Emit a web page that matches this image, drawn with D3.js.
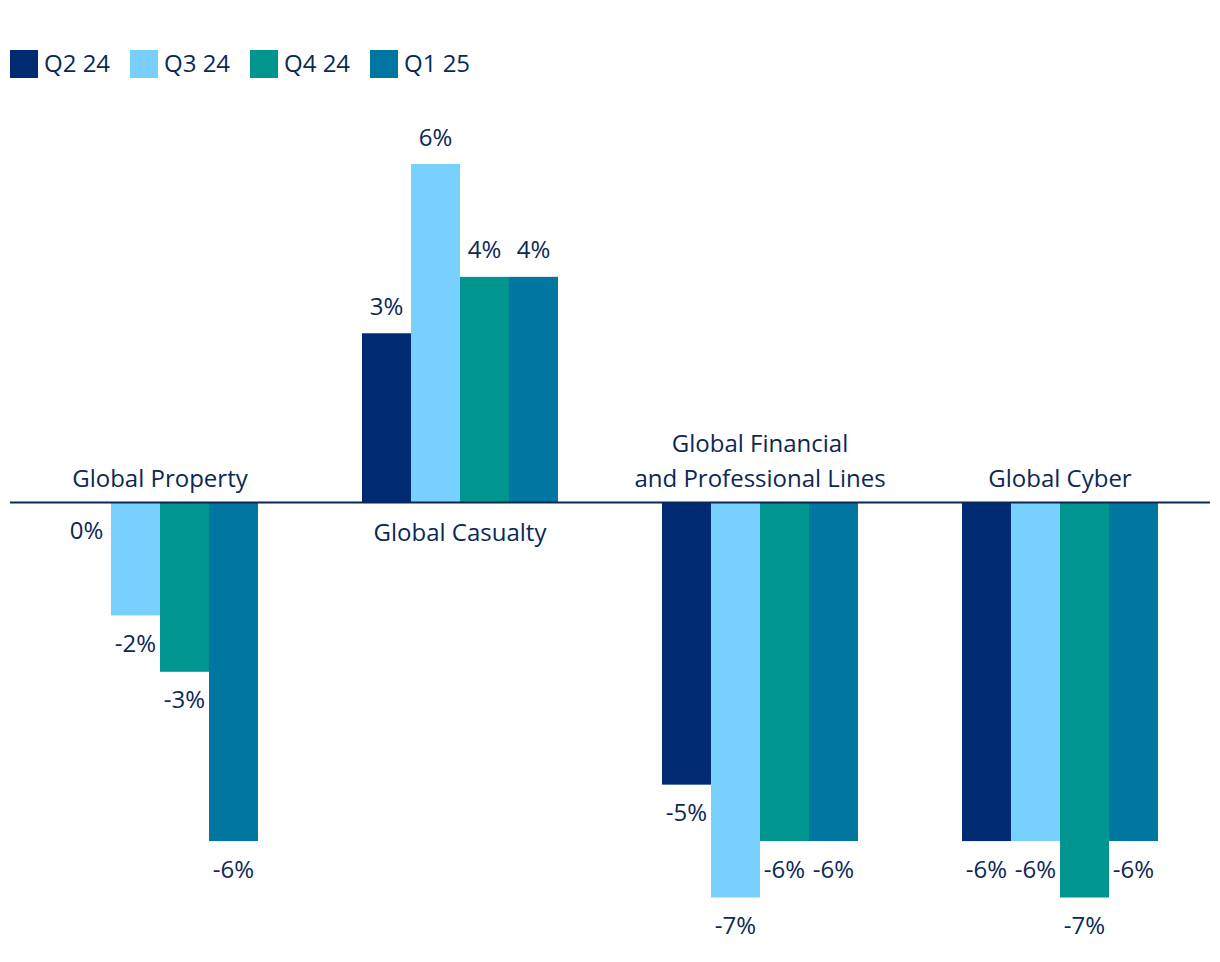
<!DOCTYPE html>
<html lang="en">
<head>
<meta charset="utf-8">
<script src="https://d3js.org/d3.v7.min.js"></script>
<style>
  body { margin: 0; background: #fff; }
  text { font-family: "Open Sans", "Noto Sans", sans-serif; fill: #0b2856; }
</style>
</head>
<body>
<div id="chart"></div>
<script>
// data
var categories = ["Global Property", "Global Casualty", "Global Financial and Professional Lines", "Global Cyber"];
var categoryLines = [["Global Property"], ["Global Casualty"], ["Global Financial", "and Professional Lines"], ["Global Cyber"]];
var series = ["Q2 24", "Q3 24", "Q4 24", "Q1 25"];
var colors = ["#002b73", "#78d1fd", "#00958e", "#0076a1"];
var q2_24 = [0, 3, -5, -6];
var q3_24 = [-2, 6, -7, -6];
var q4_24 = [-3, 4, -6, -7];
var q1_25 = [-6, 4, -6, -6];
var values = [q2_24, q3_24, q4_24, q1_25];

var W = 1220, H = 962;
var fontSize = 24;

var svg = d3.select("#chart").append("svg")
  .attr("width", W)
  .attr("height", H);

var x0 = d3.scaleBand()
  .domain(categories)
  .range([10, 1210])
  .paddingInner(0.3467)
  .paddingOuter(0.1733);

var x1 = d3.scaleBand()
  .domain(series)
  .range([0, x0.bandwidth()]);

var y = d3.scaleLinear()
  .domain([-7, 6])
  .range([897.5, 164]);

var color = d3.scaleOrdinal().domain(series).range(colors);

// legend
var legend = svg.append("g").attr("transform", "translate(10,50)");
var item = legend.selectAll("g")
  .data(series)
  .enter().append("g")
  .attr("transform", function(d, i) { return "translate(" + (i * 120) + ",0)"; });
item.append("rect")
  .attr("width", 28)
  .attr("height", 28)
  .attr("fill", function(d) { return color(d); });
item.append("text")
  .attr("x", 34)
  .attr("y", 12)
  .attr("dominant-baseline", "central")
  .style("font-size", fontSize + "px")
  .text(function(d) { return d; });

// flatten
var flat = [];
categories.forEach(function(c, ci) {
  series.forEach(function(s, si) {
    flat.push({ cat: c, s: s, v: values[si][ci] });
  });
});

var groups = svg.selectAll("g.bars")
  .data(flat)
  .enter().append("g")
  .attr("class", "bars")
  .attr("transform", function(d) { return "translate(" + (x0(d.cat) + x1(d.s)) + ",0)"; });

groups.append("rect")
  .attr("y", function(d) { return y(Math.max(0, d.v)); })
  .attr("width", x1.bandwidth())
  .attr("height", function(d) { return Math.abs(y(d.v) - y(0)); })
  .attr("fill", function(d) { return color(d.s); });

groups.append("text")
  .attr("x", x1.bandwidth() / 2)
  .attr("y", function(d) { return d.v > 0 ? y(d.v) - 28 : y(d.v) + 27; })
  .attr("text-anchor", "middle")
  .attr("dominant-baseline", "central")
  .style("font-size", fontSize + "px")
  .text(function(d) { return d.v + "%"; });

// zero line
svg.append("line")
  .attr("x1", 10)
  .attr("x2", 1210)
  .attr("y1", y(0))
  .attr("y2", y(0))
  .attr("stroke", "#0b2856")
  .attr("stroke-width", 2);

// category labels: above axis when the group is negative, below otherwise
categories.forEach(function(c, ci) {
  var sum = d3.sum(values, function(v) { return v[ci]; });
  var lines = categoryLines[ci];
  var t = svg.append("text")
    .attr("text-anchor", "middle")
    .attr("dominant-baseline", "central")
    .style("font-size", fontSize + "px");
  lines.forEach(function(l, li) {
    var yy = sum < 0 ? y(0) - 26 - (lines.length - 1 - li) * 35 : y(0) + 28 + li * 35;
    t.append("tspan")
      .attr("x", x0(c) + x0.bandwidth() / 2)
      .attr("y", yy)
      .text(l);
  });
});
</script>
</body>
</html>
